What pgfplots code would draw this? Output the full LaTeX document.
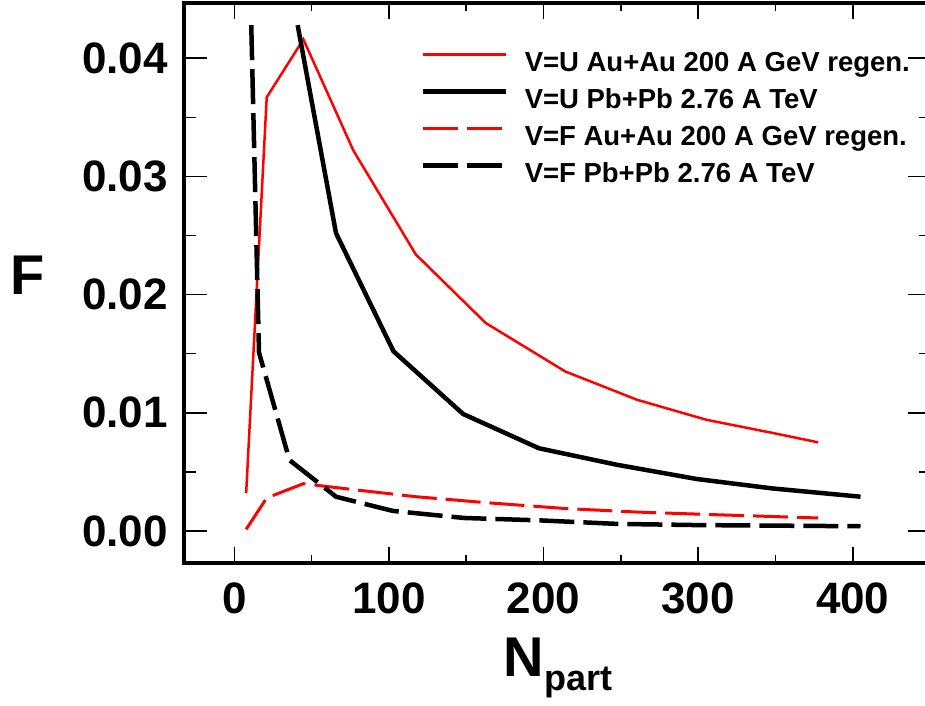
\documentclass[border=0pt]{standalone}
\usepackage{pgfplots}
\pgfplotsset{compat=1.18}
\usepackage{fontspec}
\setmainfont{Liberation Sans}
\begin{document}
\begin{tikzpicture}
\begin{axis}[
 at={(184pt,142pt)}, anchor=south west,
 scale only axis, width=747pt, height=559.7pt,
 xmin=-32.5, xmax=450.6, ymin=-0.00271, ymax=0.04465,
 xtick={0,100,200,300,400}, ytick={0,0.01,0.02,0.03,0.04},
 minor xtick={50,150,250,350,450}, minor ytick={0.005,0.015,0.025,0.035},
 scaled y ticks=false,
 /pgf/number format/assume math mode=true,
 tick label style={font=\fontsize{44}{44}\selectfont\bfseries, inner sep=0pt},
 xticklabel style={yshift=-20pt},
 yticklabel style={xshift=-16pt, /pgf/number format/fixed, /pgf/number format/fixed zerofill, /pgf/number format/precision=2},
 axis line style={line width=4pt},
 tick style={line width=1.5pt, black},
 xtick style={/pgfplots/major tick length=16pt, /pgfplots/minor tick length=8pt},
 ytick style={/pgfplots/major tick length=23pt, /pgfplots/minor tick length=12pt},
 xlabel={N\raisebox{-14pt}{\fontsize{36}{36}\selectfont part}},
 xlabel style={at={(axis description cs:0.5007,-0.2019)}, anchor=base, font=\fontsize{56}{56}\selectfont\bfseries, inner sep=0pt},
 ylabel={F},
 ylabel style={at={(axis description cs:-0.21,0.5146)}, anchor=center, rotate=-90, font=\fontsize{56}{56}\selectfont\bfseries, inner sep=0pt},
 legend style={draw=none, fill=none, at={(axis description cs:0.312,0.918)}, anchor=north west, font=\fontsize{27.5}{27.5}\selectfont\bfseries, nodes={inner sep=0pt, text height=20pt, text depth=6pt}, row sep=11pt, /tikz/every odd column/.append style={column sep=17pt}},
 legend cell align=left,
 legend image code/.code={\draw[#1] (0pt,10pt) -- (83pt,10pt);},
]
\addplot[red, line width=2.5pt] coordinates {
(7.7,0.0032) (21,0.0367) (44.7,0.0416) (77,0.0322) (117.4,0.0234) (162.6,0.0176) (214,0.0135) (260.5,0.0111) (305.6,0.0094) (348,0.0083) (377.6,0.0075)};
\addlegendentry{V=U Au+Au 200 A GeV regen.}
\addplot[black, line width=4.5pt] coordinates {
(41,0.0428) (65.8,0.0252) (103,0.0152) (148,0.0099) (197,0.0070) (247.5,0.0056) (299,0.0044) (348,0.0036) (405,0.0029)};
\addlegendentry{V=U Pb+Pb 2.76 A TeV}
\addplot[red, line width=3pt, dash pattern=on 35pt off 9pt] coordinates {
(7.7,0.00014) (21,0.0028) (44.7,0.0040) (77,0.0035) (117.4,0.0029) (162.6,0.0024) (214,0.0019) (260.5,0.0016) (305.6,0.0014) (377.6,0.0011)};
\addlegendentry{V=F Au+Au 200 A GeV regen.}
\addplot[black, line width=4.5pt, dash pattern=on 35pt off 9pt] coordinates {
(11,0.0428) (16,0.0151) (35.7,0.0060) (65.8,0.0029) (102.4,0.0017) (148.6,0.0011) (197,0.0009) (247.5,0.0006) (299,0.0005) (405,0.0004)};
\addlegendentry{V=F Pb+Pb 2.76 A TeV}
\end{axis}
\pgfresetboundingbox
\useasboundingbox (0,0) rectangle (925pt,705pt);
\end{tikzpicture}
\end{document}
